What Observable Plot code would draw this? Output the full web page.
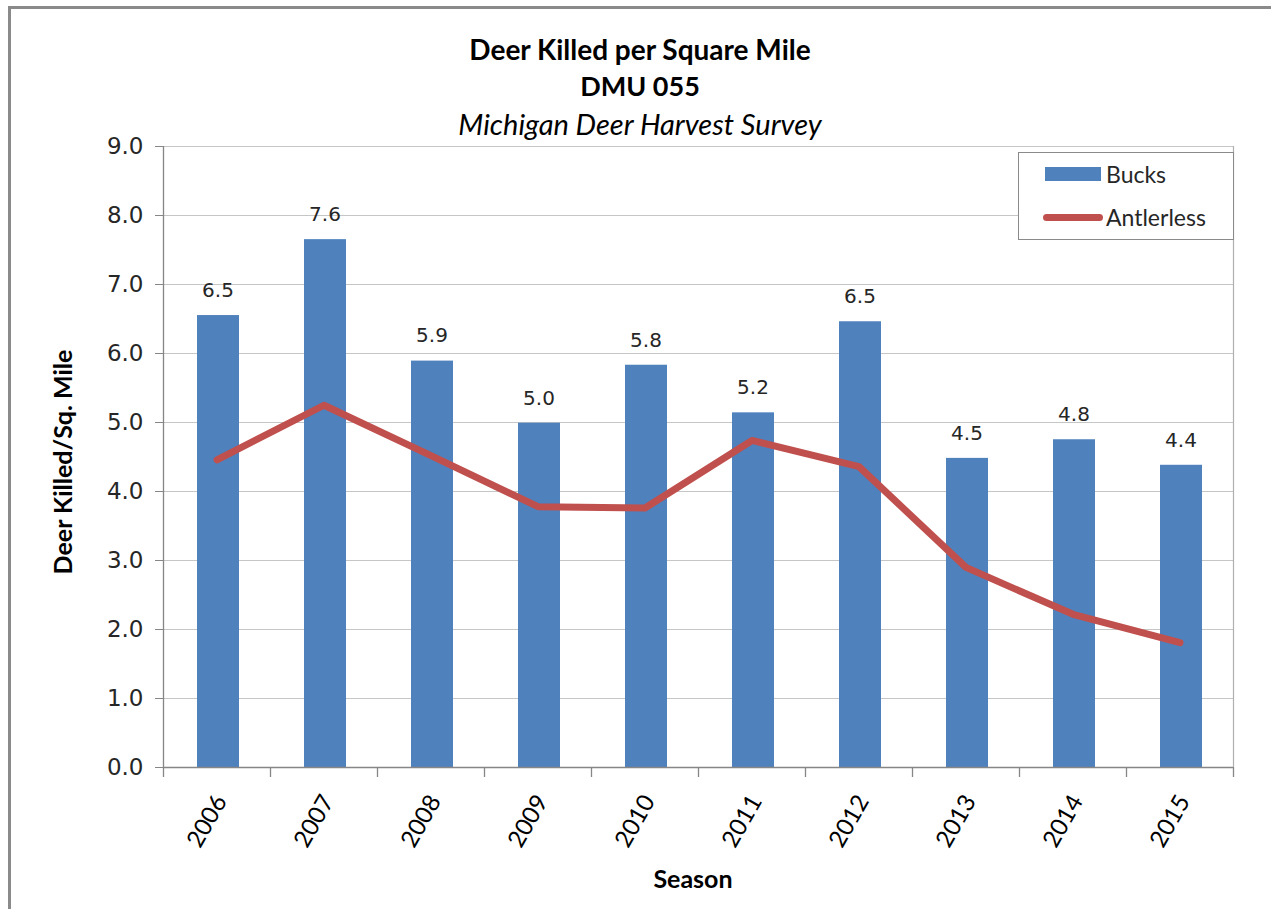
<!DOCTYPE html>
<html>
<head>
<meta charset="utf-8">
<script src="https://cdn.jsdelivr.net/npm/d3@7"></script>
<script src="https://cdn.jsdelivr.net/npm/@observablehq/plot@0.6"></script>
<style>
  html, body { margin: 0; padding: 0; background: #fff; }
  #wrap { position: relative; width: 1271px; height: 909px; overflow: hidden; background: #fff; }
  #frame { position: absolute; left: 8px; top: 6px; width: 1300px; height: 1000px; border-top: 3px solid #8a8a8a; border-left: 3px solid #8a8a8a; }
  .t { position: absolute; left: 0; width: 1280px; text-align: center; color: #000; font-family: Lato, "Open Sans", sans-serif; white-space: nowrap; line-height: 1.2; }
  #chart { position: absolute; left: 0; top: 0; }
  #legend { position: absolute; left: 1018px; top: 152px; width: 214px; height: 86px; border: 1px solid #8a8a8a; background: #fff; font-family: Lato, sans-serif; font-size: 23px; color: #262626; }
  .li { position: absolute; left: 0; display: flex; align-items: center; line-height: 28px; height: 28px; }
  #ylab { position: absolute; left: 62px; top: 462px; transform: translate(-50%, -50%) rotate(-90deg); font-family: Lato, sans-serif; font-weight: bold; font-size: 25px; white-space: nowrap; color: #000; }
</style>
</head>
<body>
<div id="wrap">
  <div id="frame"></div>
  <div id="chart"></div>
  <div class="t" id="t1" style="top:33px; font-size:28px; font-weight:bold;">Deer Killed per Square Mile</div>
  <div class="t" id="t2" style="top:70px; font-size:27px; font-weight:bold;">DMU 055</div>
  <div class="t" id="t3" style="top:107px; font-size:29px; font-style:italic;">Michigan Deer Harvest Survey</div>
  <div id="ylab">Deer Killed/Sq. Mile</div>
  <div class="t" id="xlab" style="left:-640px; width:2666px; top:863px; font-size:25px; font-weight:bold;">Season</div>
  <div id="legend">
    <div class="li" style="top:7px; left:26px;"><span style="display:inline-block;width:56px;height:14px;background:#4F81BD;margin-right:5px;"></span><span>Bucks</span></div>
    <div class="li" style="top:50px; left:24px;"><span style="display:inline-block;width:60px;height:7px;border-radius:4px;background:#C0504D;margin-right:3px;"></span><span>Antlerless</span></div>
  </div>
</div>
<script>
const seasons = ["2006","2007","2008","2009","2010","2011","2012","2013","2014","2015"];
const bucks = [6.55, 7.65, 5.89, 4.99, 5.83, 5.14, 6.46, 4.48, 4.75, 4.38];
const bucksLabels = ["6.5","7.6","5.9","5.0","5.8","5.2","6.5","4.5","4.8","4.4"];
const antlerless = [4.46, 5.25, 4.52, 3.78, 3.76, 4.74, 4.36, 2.90, 2.22, 1.81];
const yTicks = [0,1,2,3,4,5,6,7,8,9];

const data = seasons.map((s, i) => ({season: s, bucks: bucks[i], label: bucksLabels[i], antlerless: antlerless[i]}));

const W = 1271, H = 909;
const mL = 163, mR = 38, mT = 146, mB = 142;
const step = (W - mL - mR) / seasons.length;

const chart = Plot.plot({
  width: W,
  height: H,
  marginLeft: mL,
  marginRight: mR,
  marginTop: mT,
  marginBottom: mB,
  style: {background: "transparent", overflow: "visible"},
  x: {domain: seasons, padding: 0, axis: null},
  y: {domain: [0, 9], axis: null},
  marks: [
    Plot.ruleY(yTicks.filter(d => d > 0), {y: d => d, stroke: "#c6c6c6", strokeWidth: 1.2}),
    Plot.ruleX([seasons[seasons.length - 1]], {x: d => d, dx: step / 2, stroke: "#b0b0b0", strokeWidth: 1.2}),
    Plot.barY(data, {x: "season", y: "bucks", fill: "#4F81BD", insetLeft: 34, insetRight: 31}),
    Plot.line(data, {x: "season", y: "antlerless", stroke: "#C0504D", strokeWidth: 7, strokeLinecap: "round", strokeLinejoin: "round"}),
    Plot.text(data, {x: "season", y: "bucks", text: "label", dy: -25, dx: 1, fontFamily: "DejaVu Sans", fontSize: 20, fill: "#262626"}),
    Plot.ruleY([0], {y: d => d, stroke: "#868686", strokeWidth: 1.3}),
    Plot.ruleX([seasons[0]], {x: d => d, dx: -step / 2, stroke: "#868686", strokeWidth: 1.3}),
    Plot.ruleX(seasons, {x: d => d, y1: 0, y2: 0, insetBottom: -10, dx: -step / 2, stroke: "#868686", strokeWidth: 1.3}),
    Plot.ruleX([seasons[seasons.length - 1]], {x: d => d, y1: 0, y2: 0, insetBottom: -10, dx: step / 2, stroke: "#868686", strokeWidth: 1.3}),
    Plot.axisY(yTicks, {tickSize: 8, tickPadding: 12, tickFormat: d => d.toFixed(1), fontFamily: "DejaVu Sans", fontSize: 23, stroke: "#868686", fill: "#262626", label: null}),
    Plot.axisX({tickSize: 0, tickPadding: 25, tickRotate: -60, textAnchor: "end", lineAnchor: "top", dx: -4, fontFamily: "Lato", fontSize: 24, fill: "#000", label: null})
  ]
});
document.getElementById("chart").appendChild(chart);
</script>
</body>
</html>
